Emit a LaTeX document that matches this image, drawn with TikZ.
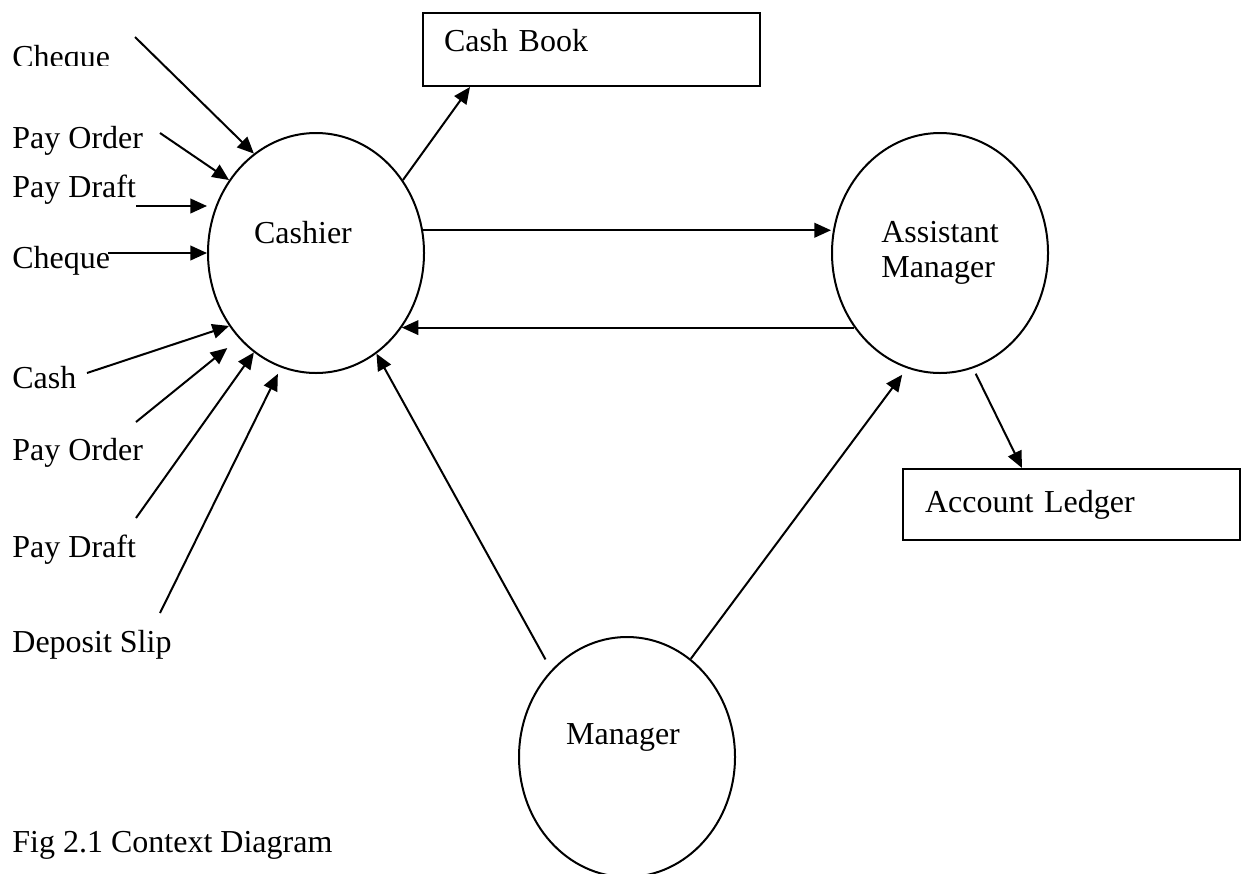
\documentclass[tikz,border=0pt]{standalone}
\usepackage{fontspec}
\setmainfont{Liberation Serif}
\usetikzlibrary{shapes.geometric,arrows.meta}

\begin{document}
\begin{tikzpicture}[
  x=0.5pt, y=-0.5pt,
  font=\fontsize{16}{17.5}\selectfont,
  process/.style={ellipse, draw, line width=1pt, minimum width=108pt,
                  minimum height=120pt, inner sep=0pt},
  store/.style={rectangle, draw, line width=1pt, align=left,
                inner ysep=0pt},
  tag/.style={inner sep=0pt, anchor=base west},
  inside/.style={inner sep=0pt, anchor=center},
  flow/.style={draw, line width=1pt,
               -{Triangle[length=8.3pt,width=7.3pt]}}
]
  \fill[white] (0,0) rectangle (1246,873);
  \useasboundingbox (0,0) rectangle (1246,873);

  % processes
  \node[process, label={[inside, xshift=-6.5pt, yshift=10pt]center:Cashier}]
    (cashier) at (316,253) {};
  \node[process, align=left] (asst) at (940,253) {Assistant\\Manager};
  \node[process, label={[inside, xshift=-2pt, yshift=10pt]center:Manager}]
    (manager) at (627,757) {};

  % data stores
  \node[store, minimum height=36.5pt, text width=147.5pt, inner xsep=10.5pt,
        text depth=9pt]
    (cashbook) at (591.5,49.5) {Cash Book};
  \node[store, minimum height=35.5pt, text width=146.5pt, inner xsep=11pt]
    (ledger) at (1071.5,504.5) {Account Ledger};

  % incoming documents
  \begin{scope}
    \clip (0,0) rectangle (200,65);
    \node[tag] (chq1) at (12,67) {Cheque};
  \end{scope}
  \node[tag] (po1)  at (12,148) {Pay Order};
  \node[tag] (pd1)  at (12,197) {Pay Draft};
  \node[tag] (chq2) at (12,268) {Cheque};
  \node[tag] (cash) at (12,388) {Cash};
  \node[tag] (po2)  at (12,460) {Pay Order};
  \node[tag] (pd2)  at (12,557) {Pay Draft};
  \node[tag] (slip) at (12,652) {Deposit Slip};
  \node[tag] (caption) at (12,852) {Fig 2.1 Context Diagram};

  % tails of the incoming flows
  \coordinate (t1) at (135,37);
  \coordinate (t2) at (160,133);
  \coordinate (t3) at (136,206);
  \coordinate (t4) at (108,253);
  \coordinate (t5) at (87,373);
  \coordinate (t6) at (136,422);
  \coordinate (t7) at (136,518);
  \coordinate (t8) at (160,613);

  \draw[flow] (t1) -- (cashier.122.4);
  \draw[flow] (t2) -- (cashier.140);
  \draw[flow] (t3) -- (t3 -| cashier.west);
  \draw[flow] (t4) -- (cashier.west);
  \draw[flow] (t5) -- (cashier.220);
  \draw[flow, shorten >=7.5pt] (t6) -- (cashier.228.8);
  \draw[flow] (t7) -- (cashier.238);
  \draw[flow, shorten >=3.5pt] (t8) -- (cashier.253);

  % flows between processes and stores
  \draw[flow] (cashier.40) -- ([xshift=24pt]cashbook.south west);
  \draw[flow] (cashier.12.8) -- (cashier.12.8 -| asst.west);
  \draw[flow] (asst.221) -- (asst.221 -| cashier.319);
  \draw[flow, shorten <=6pt] (manager.131) -- (cashier.301);
  \draw[flow, shorten >=4pt] (manager.57.8) -- (asst.254);
  \draw[flow, shorten <=3pt] (asst.286.3) -- ([xshift=60pt]ledger.north west);
\end{tikzpicture}
\end{document}
